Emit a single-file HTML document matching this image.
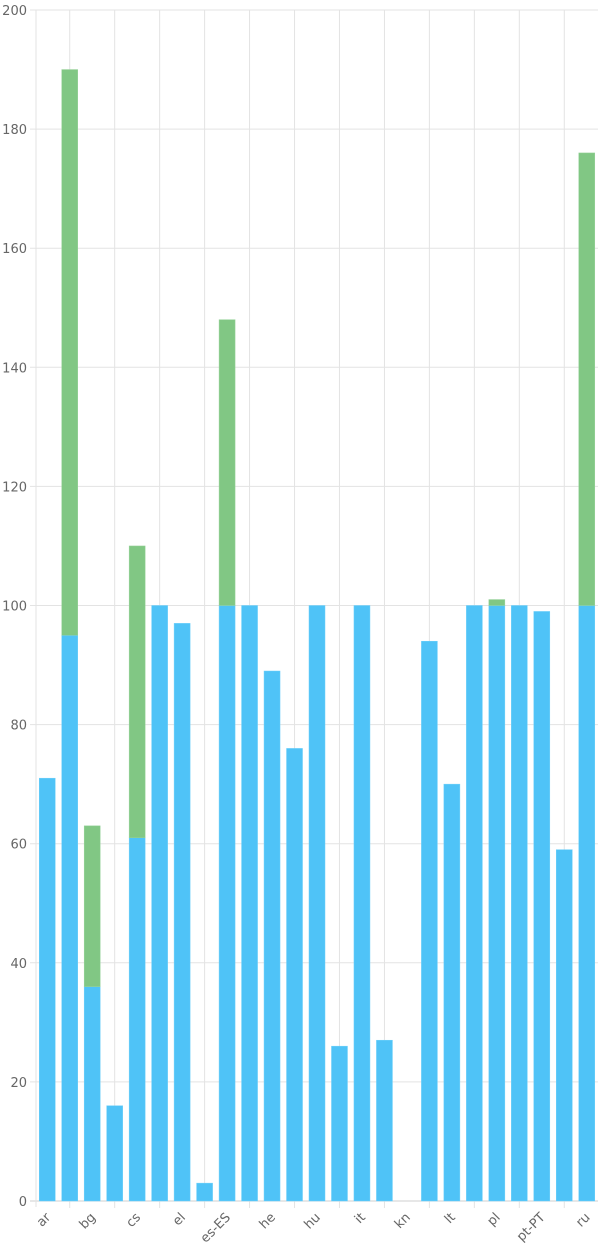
<!DOCTYPE html>
<html><head><meta charset="utf-8"><style>
html,body{margin:0;padding:0;background:#fff;width:600px;height:1250px;overflow:hidden}
svg{display:block;font-family:"DejaVu Sans","Liberation Sans",sans-serif}
</style></head><body>
<svg id="chart" width="600" height="1250" xmlns="http://www.w3.org/2000/svg">
<g id="grid"></g>
<g id="bars"></g>
<g id="axes"></g>
</svg>
<script>
const categories=["ar","","bg","","cs","","el","","es-ES","","he","","hu","","it","","kn","","lt","","pl","","pt-PT","","ru"];
const seriesBlue=[71,95,36,16,61,100,97,3,100,100,89,76,100,26,100,27,0,94,70,100,100,100,99,59,100];
const seriesGreen=[0,95,27,0,49,0,0,0,48,0,0,0,0,0,0,0,0,0,0,0,1,0,0,0,76];
const yTicks=[0,20,40,60,80,100,120,140,160,180,200];
const NS="http://www.w3.org/2000/svg";
const L=36,R=598,T=10,B=1201,yMax=200;
const band=(R-L)/categories.length, bw=16;
const y=v=>B-(v/yMax)*(B-T);
const xc=i=>L+band*(i+0.5);
function mk(tag,attrs,parent){const e=document.createElementNS(NS,tag);for(const k in attrs)e.setAttribute(k,attrs[k]);parent.appendChild(e);return e;}
const grid=document.getElementById('grid'),bars=document.getElementById('bars'),axes=document.getElementById('axes');
yTicks.forEach(t=>{
  const l=mk('line',{x1:30,x2:R,y1:y(t),y2:y(t),stroke:t===0?'#cfcfcf':'#e3e3e3','stroke-width':1},grid);
  
  
  const tx=mk('text',{x:27,y:y(t)+5,'text-anchor':'end','font-size':13,fill:'#666'},axes);
  
  
  tx.textContent=t;
});
const al=mk('line',{x1:L,x2:L,y1:T,y2:B+6,stroke:'#e3e3e3'},grid);


categories.forEach((c,i)=>{
  if(i%2===1){
    const g=mk('line',{x1:xc(i),x2:xc(i),y1:T,y2:B+7,stroke:'#e3e3e3'},grid);
    
    
  }
  const b=seriesBlue[i],g2=seriesGreen[i];
  if(b>0){
    const r=mk('rect',{x:xc(i)-bw/2,y:y(b),width:bw,height:y(0)-y(b),fill:'#4fc3f7',stroke:'#6fd0fa','stroke-width':0.5},bars);
    
    
  }
  if(g2>0){
    const r=mk('rect',{x:xc(i)-bw/2,y:y(b+g2),width:bw,height:y(b)-y(b+g2),fill:'#81c784',stroke:'#99d39c','stroke-width':0.5},bars);
    
    
  }
  if(c){
    const px=xc(i)+4,py=B+17;
    const t=mk('text',{x:px,y:py,'text-anchor':'end','font-size':13,fill:'#666',transform:`rotate(-45 ${px} ${py})`},axes);
    
    
    t.textContent=c;
  }
});
</script>
</body></html>
